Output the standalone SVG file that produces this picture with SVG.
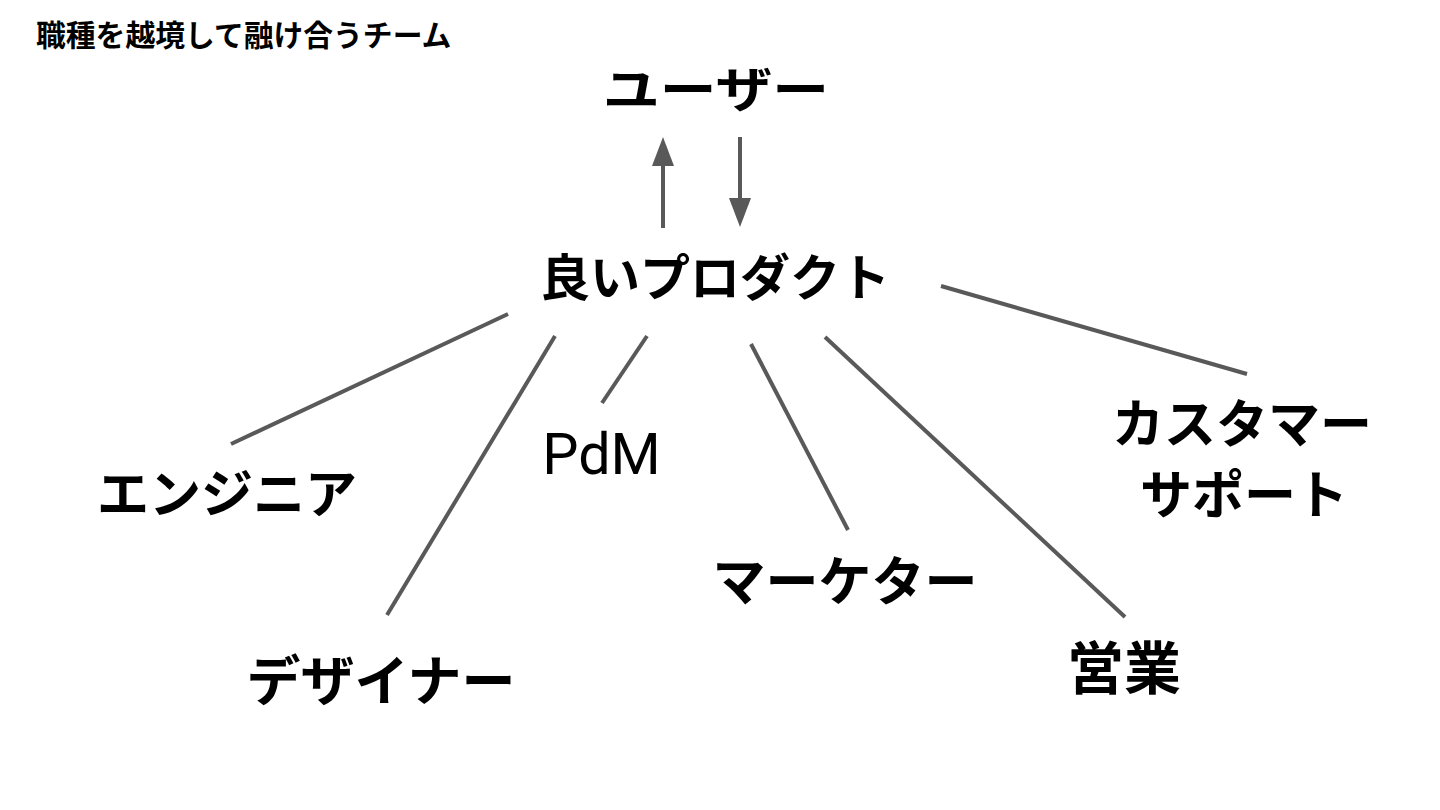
<svg xmlns="http://www.w3.org/2000/svg" width="1440" height="810" viewBox="0 0 1440 810">
  <style>
    .jp { font-family: "Noto Sans CJK JP", "Noto Sans", sans-serif; font-weight: 700; fill: #000; }
    .lbl { font-size: 52px; text-anchor: middle; }
    .en { font-family: Roboto, "Liberation Sans", sans-serif; font-weight: 400; fill: #000; }
    .conn { stroke: #595959; stroke-width: 4; fill: none; }
  </style>
  <defs>
    <marker id="ah" markerUnits="userSpaceOnUse" markerWidth="29" markerHeight="22" refX="0" refY="11" orient="auto">
      <path d="M0,0 L29,11 L0,22 z" fill="#595959"/>
    </marker>
  </defs>
  <rect width="1440" height="810" fill="#ffffff"/>

  <g id="title">
    <text class="jp" x="36" y="46" font-size="29.8">職種を越境して融け合うチーム</text>
  </g>

  <g id="connectors">
    <line class="conn" x1="663" y1="228" x2="663" y2="166" marker-end="url(#ah)"/>
    <line class="conn" x1="740" y1="137" x2="740" y2="198" marker-end="url(#ah)"/>
    <line class="conn" x1="508" y1="314" x2="231" y2="444"/>
    <line class="conn" x1="555" y1="336" x2="387" y2="615"/>
    <line class="conn" x1="647" y1="336" x2="602" y2="403"/>
    <line class="conn" x1="751" y1="344" x2="848" y2="530"/>
    <line class="conn" x1="825" y1="337" x2="1125" y2="617"/>
    <line class="conn" x1="941" y1="286" x2="1247" y2="374"/>
  </g>

  <g id="user">
    <text class="jp" x="716" y="107" font-size="48" text-anchor="middle" textLength="226" lengthAdjust="spacingAndGlyphs">ユーザー</text>
  </g>
  <g id="product">
    <text class="jp" x="715" y="296" font-size="50" text-anchor="middle">良いプロダクト</text>
  </g>
  <g id="engineer">
    <text class="jp lbl" x="227" y="513">エンジニア</text>
  </g>
  <g id="designer">
    <text class="jp lbl" x="381" y="701" style="font-size:54px">デザイナー</text>
  </g>
  <g id="pdm">
    <text class="en" x="601.5" y="474" font-size="57.5" text-anchor="middle">PdM</text>
  </g>
  <g id="marketer">
    <text class="jp lbl" x="845" y="601" style="font-size:53px">マーケター</text>
  </g>
  <g id="sales">
    <text class="jp lbl" x="1124" y="689" style="font-size:57px">営業</text>
  </g>
  <g id="support">
    <text class="jp lbl" x="1242" y="443">カスタマー</text>
    <text class="jp lbl" x="1244" y="514">サポート</text>
  </g>
</svg>
